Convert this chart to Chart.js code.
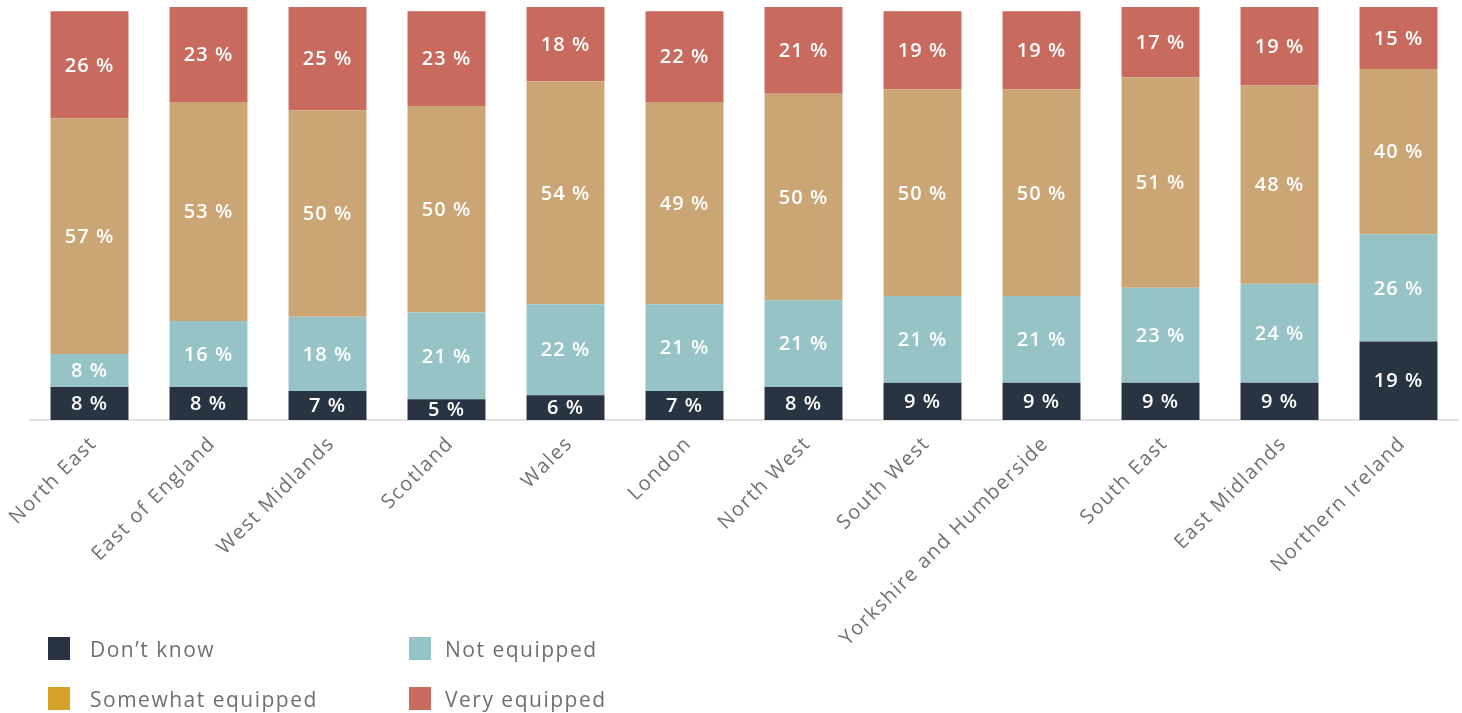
<!DOCTYPE html>
<html>
<head>
<meta charset="utf-8">
<script src="https://cdn.jsdelivr.net/npm/chart.js@4/dist/chart.umd.min.js"></script>
<style>
  html, body { margin: 0; padding: 0; background: #ffffff; }
  #wrap { position: relative; width: 1462px; height: 713px; }
  #chart { position: absolute; left: 0; top: 0; }
  .legend { position: absolute; left: 0; top: 0; font-family: "Open Sans", sans-serif; font-size: 21px; letter-spacing: 1.5px; color: #6f6f6f; }
  .legend .sw { position: absolute; width: 22px; height: 23px; }
  .legend .tx { position: absolute; white-space: nowrap; line-height: 24px; }
</style>
</head>
<body>
<div id="wrap">
  <canvas id="chart" width="1462" height="713"></canvas>
  <div class="legend" id="legend"></div>
</div>
<script>
// Regions and the share of respondents (%) in each answer group
const categories = ["North East", "East of England", "West Midlands", "Scotland", "Wales", "London",
  "North West", "South West", "Yorkshire and Humberside", "South East", "East Midlands", "Northern Ireland"];
const dontKnow         = [8, 8, 7, 5, 6, 7, 8, 9, 9, 9, 9, 19];
const notEquipped      = [8, 16, 18, 21, 22, 21, 21, 21, 21, 23, 24, 26];
const somewhatEquipped = [57, 53, 50, 50, 54, 49, 50, 50, 50, 51, 48, 40];
const veryEquipped     = [26, 23, 25, 23, 18, 22, 21, 19, 19, 17, 19, 15];
const seriesNames = ["Don\u2019t know", "Not equipped", "Somewhat equipped", "Very equipped"];

const barColors    = ["#283441", "#96c3c6", "#cca575", "#c96a5f"];
const legendColors = ["#283441", "#96c3c6", "#d4a12a", "#c96a5f"];

// Wider tracking for the axis text
const tracking = {
  id: "tracking",
  beforeUpdate(chart) { chart.ctx.letterSpacing = "1.5px"; },
  beforeDraw(chart) { chart.ctx.letterSpacing = "1.5px"; }
};

// White value labels centred in each segment
const segmentLabels = {
  id: "segmentLabels",
  afterDatasetsDraw(chart) {
    const ctx = chart.ctx;
    ctx.save();
    ctx.letterSpacing = "1px";
    ctx.fillStyle = "#ffffff";
    ctx.font = "600 20px 'Open Sans', sans-serif";
    ctx.textAlign = "center";
    ctx.textBaseline = "middle";
    chart.data.datasets.forEach((ds, di) => {
      const meta = chart.getDatasetMeta(di);
      meta.data.forEach((bar, i) => {
        const v = ds.data[i];
        const yMid = (bar.y + bar.base) / 2;
        ctx.fillText(v + " %", bar.x, yMid + 1);
      });
    });
    ctx.restore();
  }
};

const data = {
  labels: categories,
  datasets: [dontKnow, notEquipped, somewhatEquipped, veryEquipped].map((vals, k) => ({
    label: seriesNames[k],
    data: vals,
    backgroundColor: barColors[k],
    borderWidth: 0,
    categoryPercentage: 1.0,
    barPercentage: 0.655
  }))
};

new Chart(document.getElementById("chart"), {
  type: "bar",
  data,
  options: {
    responsive: false,
    animation: false,
    layout: { padding: { top: 7, left: 30, right: 4, bottom: 0 } },
    plugins: { legend: { display: false }, tooltip: { enabled: false } },
    scales: {
      x: {
        stacked: true,
        grid: { display: false },
        border: { display: true, color: "#e2e4e4", width: 2 },
        ticks: {
          maxRotation: 45, minRotation: 45,
          color: "#707070",
          padding: 4,
          labelOffset: 4,
          font: { family: "'Open Sans', sans-serif", size: 20 }
        },
        afterFit(axis) {
          axis.height = 293;
          axis.paddingLeft = 0;
          axis.paddingRight = 0;
        }
      },
      y: {
        stacked: true,
        display: false,
        min: 0, max: 100
      }
    }
  },
  plugins: [tracking, segmentLabels]
});

// Legend in two columns under the chart
const legend = document.getElementById("legend");
const swPos = [[48, 637], [409, 637], [48, 687], [409, 687]];
const txX = [90, 445, 90, 445];
seriesNames.forEach((name, k) => {
  const sw = document.createElement("div");
  sw.className = "sw";
  sw.style.left = swPos[k][0] + "px";
  sw.style.top = swPos[k][1] + "px";
  sw.style.background = legendColors[k];
  const tx = document.createElement("div");
  tx.className = "tx";
  tx.style.left = txX[k] + "px";
  tx.style.top = swPos[k][1] + "px";
  tx.textContent = name;
  legend.appendChild(sw);
  legend.appendChild(tx);
});
</script>
</body>
</html>
